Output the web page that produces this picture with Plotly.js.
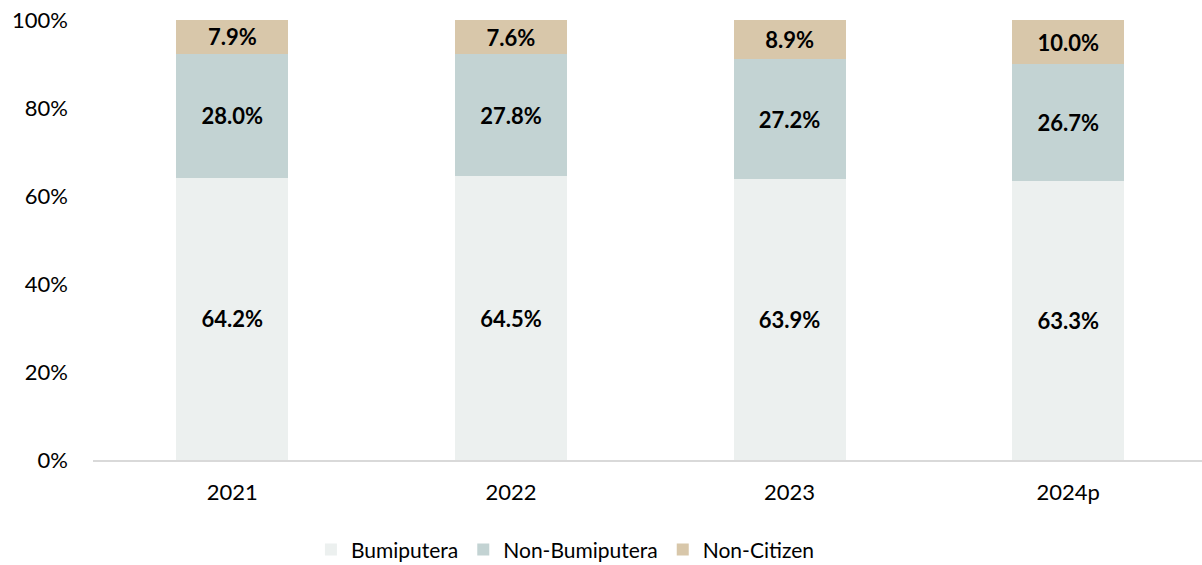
<!DOCTYPE html>
<html>
<head>
<meta charset="utf-8">
<script src="https://cdn.plot.ly/plotly-3.0.1.min.js"></script>
<style>html,body{margin:0;padding:0;background:#fff;}#chart{width:1202px;height:565px;}</style>
</head>
<body>
<div id="chart"></div>
<script>
var categories = ["2021", "2022", "2023", "2024p"];
var bumiputera = [64.2, 64.5, 63.9, 63.3];
var nonBumiputera = [28.0, 27.8, 27.2, 26.7];
var nonCitizen = [7.9, 7.6, 8.9, 10.0];
var seriesNames = ["Bumiputera", "Non-Bumiputera", "Non-Citizen"];
var seriesColors = ["#ECF0EF", "#C3D3D3", "#D8C7AA"];
var yTickVals = [0, 20, 40, 60, 80, 100];
var yTickText = ["0%", "20%", "40%", "60%", "80%", "100%"];

var FONT = "Lato, 'Liberation Sans', sans-serif";
var allSeries = [bumiputera, nonBumiputera, nonCitizen];
var traces = allSeries.map(function (vals, i) {
  return {
    type: "bar",
    name: seriesNames[i],
    x: categories,
    y: vals,
    marker: { color: seriesColors[i], line: { width: 0 } },
    text: vals.map(function (v) { return "<b>" + v.toFixed(1) + "%</b>"; }),
    textposition: "inside",
    insidetextanchor: "middle",
    textangle: 0,
    textfont: { family: FONT, size: 22, color: "#000000" },
    hoverinfo: "skip"
  };
});

var layout = {
  width: 1202,
  height: 565,
  margin: { l: 93, r: 0, t: 20, b: 105 },
  paper_bgcolor: "#ffffff",
  plot_bgcolor: "#ffffff",
  barmode: "stack",
  bargap: 0.598,
  showlegend: true,
  uniformtext: { minsize: 22, mode: "show" },
  font: { family: FONT, size: 22, color: "#000000" },
  xaxis: {
    type: "category",
    range: [-0.5, 3.48],
    showline: true,
    linecolor: "#D9D9D9",
    linewidth: 2,
    showgrid: false,
    zeroline: false,
    ticks: "",
    ticklabelstandoff: 12,
    tickfont: { family: FONT, size: 22, color: "#000000" },
    automargin: false
  },
  yaxis: {
    range: [0, 100],
    tickvals: yTickVals,
    ticktext: yTickText,
    showgrid: false,
    zeroline: false,
    showline: false,
    ticks: "",
    ticklabelstandoff: 24,
    tickfont: { family: FONT, size: 22, color: "#000000" },
    automargin: false
  },
  legend: {
    orientation: "h",
    xref: "paper",
    x: 0.426,
    xanchor: "center",
    yref: "container",
    y: 0.027,
    yanchor: "middle",
    traceorder: "normal",
    font: { family: FONT, size: 21, color: "#000000" },
    itemwidth: 30
  }
};

Plotly.newPlot("chart", traces, layout, { staticPlot: true, displayModeBar: false });
</script>
</body>
</html>
